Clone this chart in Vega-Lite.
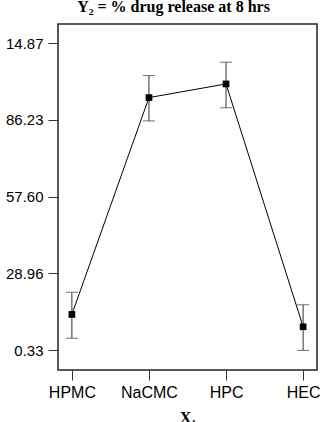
{
  "$schema": "https://vega.github.io/schema/vega-lite/v6.json",
  "autosize": "none",
  "width": 259,
  "height": 346,
  "padding": {"left": 58, "top": 24, "right": 9, "bottom": 52},
  "background": "white",
  "title": {
    "text": "Y₂ = % drug release at 8 hrs",
    "font": "Liberation Serif",
    "fontSize": 16,
    "fontWeight": "bold",
    "color": "black",
    "anchor": "middle",
    "frame": "group",
    "baseline": "alphabetic",
    "offset": 12,
    "dx": -14,
    "dy": 16
  },
  "config": {
    "view": {"stroke": "#222", "strokeWidth": 1.5}
  },
  "data": {
    "values": [
      {"x1": "HPMC", "mean": 13.6, "lo": 4.7, "hi": 21.9},
      {"x1": "NaCMC", "mean": 94.5, "lo": 85.8, "hi": 102.7},
      {"x1": "HPC", "mean": 99.6, "lo": 90.7, "hi": 107.7},
      {"x1": "HEC", "mean": 9.0, "lo": 0.2, "hi": 17.2}
    ]
  },
  "encoding": {
    "x": {
      "field": "x1",
      "type": "nominal",
      "sort": null,
      "scale": {"type": "point", "padding": 0.18},
      "axis": {
        "title": "X₁",
        "titleFont": "Liberation Serif",
        "titleFontSize": 16,
        "titleFontWeight": "bold",
        "titleColor": "black",
        "titlePadding": 9,
        "labelFont": "Liberation Sans",
        "labelFontSize": 16,
        "labelColor": "black",
        "labelAngle": 0,
        "labelPadding": 4,
        "tickSize": 10,
        "tickColor": "#333",
        "domain": false,
        "grid": false
      }
    }
  },
  "layer": [
    {
      "mark": {"type": "rule", "color": "#333", "strokeWidth": 1},
      "encoding": {
        "y": {
          "field": "lo",
          "type": "quantitative",
          "scale": {"domain": [-7.13, 121.96], "nice": false, "zero": false},
          "axis": {
            "title": null,
            "values": [0.33, 28.96, 57.6, 86.23, 114.87],
            "labelExpr": "datum.value > 114 ? '14.87' : format(datum.value, '.2f')",
            "labelFont": "Liberation Sans",
            "labelFontSize": 15,
            "labelColor": "black",
            "labelPadding": 5,
            "tickSize": 10,
            "tickColor": "#333",
            "domain": false,
            "grid": false,
            "encode": {
              "labels": {
                "update": {
                  "dx": {"signal": "datum.value > 114 ? -7 : 0"}
                }
              }
            }
          }
        },
        "y2": {"field": "hi"}
      }
    },
    {
      "mark": {"type": "tick", "color": "#333", "size": 12, "thickness": 1},
      "encoding": {"y": {"field": "lo", "type": "quantitative"}}
    },
    {
      "mark": {"type": "tick", "color": "#333", "size": 12, "thickness": 1},
      "encoding": {"y": {"field": "hi", "type": "quantitative"}}
    },
    {
      "mark": {"type": "line", "color": "black", "strokeWidth": 1},
      "encoding": {"y": {"field": "mean", "type": "quantitative"}}
    },
    {
      "mark": {"type": "point", "shape": "square", "filled": true, "color": "black", "opacity": 1, "size": 45},
      "encoding": {"y": {"field": "mean", "type": "quantitative"}}
    }
  ]
}
